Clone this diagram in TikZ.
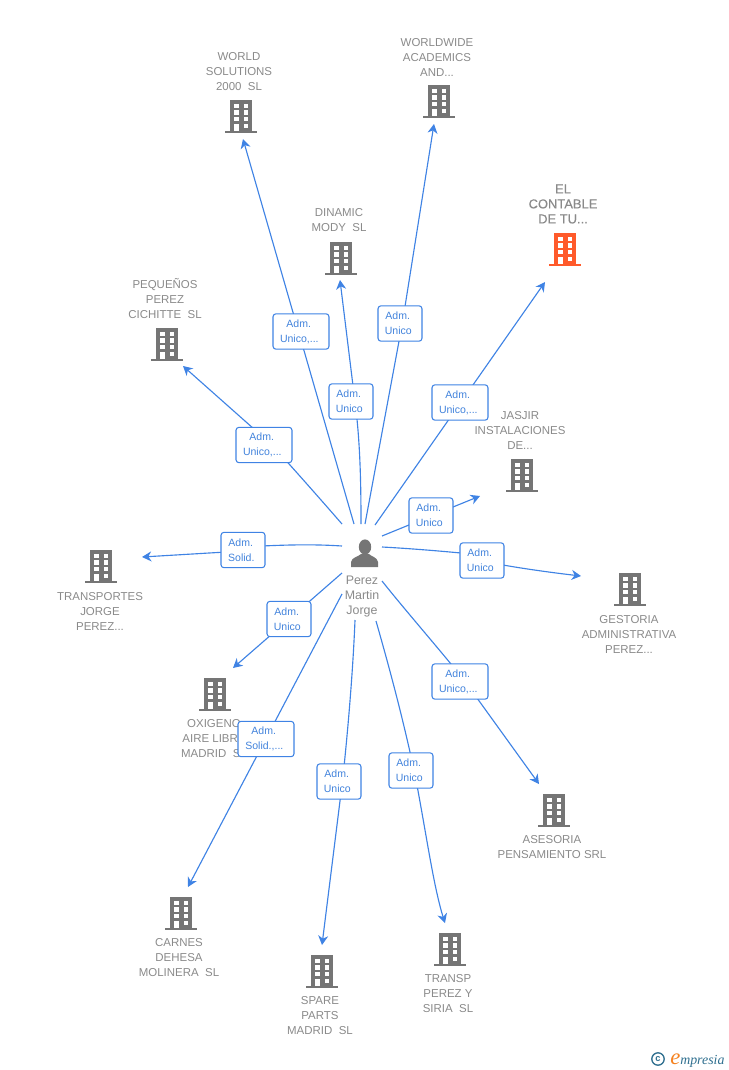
\documentclass[tikz,border=0pt]{standalone}
\usepackage{fontspec}
\setmainfont{Liberation Sans}
\newfontfamily\logofont{Liberation Serif}
\newfontfamily\heavyfont[FakeBold=0.35]{Liberation Sans}
\usetikzlibrary{arrows.meta,backgrounds}
\definecolor{edgeblue}{HTML}{3F83E4}
\definecolor{lbltext}{HTML}{4283DC}
\definecolor{txtgrey}{HTML}{8A8A8A}
\definecolor{icongrey}{HTML}{757575}
\definecolor{iconred}{HTML}{FF5A2B}
\definecolor{logoteal}{HTML}{2F6F8F}
\definecolor{logoorange}{HTML}{F58220}
\newcommand{\rl}[2]{#1\kern3.5pt\\#2\kern2.5pt}
\tikzset{
  edge/.style={draw=edgeblue,line width=0.85pt,line join=round},
  arrowedge/.style={edge,-{Stealth[length=7pt,width=7.5pt,inset=2.2pt]}},
  rel/.style={draw=edgeblue,line width=0.8pt,fill=white,rounded corners=2.2pt,minimum height=26.5pt,inner sep=0pt,
    text=lbltext,align=center,font=\fontsize{7.9}{11.25}\selectfont},
  relS/.style={rel,minimum width=33pt},
  relL/.style={rel,minimum width=42pt},
  co/.style={text=txtgrey,align=center,inner sep=0pt,yshift=-0.75pt,font=\fontsize{8.6}{11.25}\selectfont},
  cored/.style={co,font=\heavyfont\fontsize{9.7}{11.25}\selectfont},
  pers/.style={co,font=\fontsize{9.3}{11.25}\selectfont},
  bld/.pic={
    \fill[pic actions] (-11,-33) rectangle (11,0);
    \fill[pic actions] (-16,-1.8) rectangle (16,0);
    \foreach \yy in {-29.3,-22.7,-16}{
      \fill[white] (-7,\yy) rectangle (-2.5,\yy+4.4);
      \fill[white] (2.5,\yy) rectangle (7.2,\yy+4.4);
    }
    \fill[white] (2.5,-9.3) rectangle (7.2,-4.9);
    \fill[white] (-7,-9.3) rectangle (-2.5,-1.8);
  }
}
\begin{document}
\begin{tikzpicture}[x=0.75pt,y=-0.75pt]
\useasboundingbox (0,0) rectangle (728,1070);

% company labels
\node[co] (tWorld) at (239,71) {WORLD\\SOLUTIONS\\2000\ \ SL};
\node[co] (tAcad) at (437,56) {WORLDWIDE\\ACADEMICS\\AND...};
\node[co] (tDin) at (339,219.5) {DINAMIC\\MODY\ \ SL};
\node[cored] (tCont) at (563,203) {EL\\CONTABLE\\DE TU...};
\node[co] (tPeq) at (165,298) {PEQUEÑOS\\PEREZ\\CICHITTE\ \ SL};
\node[co] (tJas) at (520,429) {JASJIR\\INSTALACIONES\\DE...};
\node[co] (tTrans) at (100,610) {TRANSPORTES\\JORGE\\PEREZ...};
\node[co] (tGest) at (629,633) {GESTORIA\\ADMINISTRATIVA\\PEREZ...};
\node[co] (tOxi) at (214,738) {OXIGENO\\AIRE LIBRE\\MADRID\ \ SL};
\node[co] (tAse) at (552,846.5) {ASESORIA\\PENSAMIENTO SRL};
\node[co] (tCar) at (179,957) {CARNES\\DEHESA\\MOLINERA\ \ SL};
\node[co] (tSpa) at (320,1015) {SPARE\\PARTS\\MADRID\ \ SL};
\node[co] (tTsp) at (448,993) {TRANSP\\PEREZ Y\\SIRIA\ \ SL};
\node[pers] (tPer) at (362,596) {Perez\\Martin\\Jorge};

% building icons
\pic[fill=icongrey] (iWorld) at (241,133) {bld};
\pic[fill=icongrey] (iAcad) at (439,118) {bld};
\pic[fill=icongrey] (iDin) at (341,275) {bld};
\pic[fill=iconred] (iCont) at (565,266) {bld};
\pic[fill=icongrey] (iPeq) at (167,361) {bld};
\pic[fill=icongrey] (iJas) at (522,492) {bld};
\pic[fill=icongrey] (iTrans) at (101,583) {bld};
\pic[fill=icongrey] (iGest) at (630,606) {bld};
\pic[fill=icongrey] (iOxi) at (215,711) {bld};
\pic[fill=icongrey] (iAse) at (554,827) {bld};
\pic[fill=icongrey] (iCar) at (181,930) {bld};
\pic[fill=icongrey] (iSpa) at (322,988) {bld};
\pic[fill=icongrey] (iTsp) at (450,966) {bld};

% person icon
\fill[icongrey] (365,547) ellipse (6.2 and 7.6);
\fill[icongrey] (351,567) -- (351,562) .. controls (352,557) and (358,557) .. (361,554)
  -- (369,554) .. controls (372,557) and (377,557) .. (378,562) -- (378,567) -- cycle;

% relation boxes
\node[relL] (rWorld) at (301,331.5) {\rl{Adm.}{Unico,...}};
\node[relS] (rAcad) at (400,323.5) {\rl{Adm.}{Unico}};
\node[relS] (rDin) at (351,401.5) {\rl{Adm.}{Unico}};
\node[relL] (rCont) at (460,402.5) {\rl{Adm.}{Unico,...}};
\node[relL] (rPeq) at (264,445) {\rl{Adm.}{Unico,...}};
\node[relS] (rJas) at (431,515.5) {\rl{Adm.}{Unico}};
\node[relS] (rGest) at (482,560.5) {\rl{Adm.}{Unico}};
\node[relS] (rTrans) at (243,550) {\rl{Adm.}{Solid.}};
\node[relS] (rOxi) at (289,619) {\rl{Adm.}{Unico}};
\node[relL] (rAse) at (460,681.5) {\rl{Adm.}{Unico,...}};
\node[relL] (rCar) at (266,739) {\rl{Adm.}{Solid.,...}};
\node[relS] (rSpa) at (339,781.5) {\rl{Adm.}{Unico}};
\node[relS] (rTsp) at (411,770.5) {\rl{Adm.}{Unico}};

% connector ends
\coordinate (sWorld) at (354,524); \coordinate (eWorld) at (243,139);
\coordinate (sDin) at (361,524);   \coordinate (eDin) at (340,280);
\coordinate (sAcad) at (365,524);  \coordinate (eAcad) at (434,124);
\coordinate (sCont) at (375,525);  \coordinate (eCont) at (545,282);
\coordinate (sJas) at (382,536);   \coordinate (eJas) at (480,496);
\coordinate (sGest) at (382,547);  \coordinate (eGest) at (581,576);
\coordinate (sAse) at (382,581);   \coordinate (eAse) at (539,784);
\coordinate (sTsp) at (376,621);   \coordinate (eTsp) at (445,923);
\coordinate (sSpa) at (355,620);   \coordinate (eSpa) at (322,945);
\coordinate (sCar) at (342,594);   \coordinate (eCar) at (188,887);
\coordinate (sOxi) at (342,573);   \coordinate (eOxi) at (233,668);
\coordinate (sTrans) at (342,546); \coordinate (eTrans) at (142,557);
\coordinate (sPeq) at (342,524);   \coordinate (ePeq) at (183,366);

% bend points hidden behind the boxes
\coordinate (mDin) at (355,402);
\coordinate (mAcad) at (402.3,323.5);
\coordinate (mPeq) at (272,445);
\coordinate (mGestA) at (465,553.4);
\coordinate (mGestB) at (499,564.3);
\coordinate (mAse) at (464,680);
\coordinate (mTsp) at (414,770);
\coordinate (mSpa) at (342.5,781);
\coordinate (mTransA) at (262,546);
\coordinate (mTransB) at (226,552);

% connectors run behind the boxes
\begin{pgfonlayer}{background}
\draw[arrowedge] (sWorld) -- (eWorld);
\draw[arrowedge] (sDin) .. controls (361,480) and (360,440) .. (mDin) -- (eDin);
\draw[arrowedge] (sAcad) -- (mAcad) -- (eAcad);
\draw[arrowedge] (sCont) -- (eCont);
\draw[arrowedge] (sJas) -- (eJas);
\draw[arrowedge] (sGest) .. controls (410,548.5) and (440,551) .. (mGestA) -- (mGestB) .. controls (525,569) and (555,573) .. (eGest);
\draw[arrowedge] (sAse) .. controls (405,610) and (440,650) .. (mAse) -- (eAse);
\draw[arrowedge] (sTsp) .. controls (390,670) and (402,715) .. (mTsp) .. controls (425,825) and (433,885) .. (eTsp);
\draw[arrowedge] (sSpa) .. controls (353,670) and (348,730) .. (mSpa) -- (eSpa);
\draw[arrowedge] (sCar) -- (eCar);
\draw[arrowedge] (sOxi) -- (eOxi);
\draw[arrowedge] (sTrans) .. controls (312,544) and (285,545) .. (mTransA) -- (mTransB) -- (eTrans);
\draw[arrowedge] (sPeq) .. controls (322,501) and (300,476) .. (mPeq) -- (ePeq);
\end{pgfonlayer}

% logo
\draw[logoteal,line width=1pt] (658,1059) circle (6.2);
\node[inner sep=0pt,text=logoteal,font=\bfseries\fontsize{7}{7}\selectfont] (logoC) at (658,1059) {c};
\node[inner sep=0pt,text=logoorange,anchor=base west,font=\logofont\itshape\fontsize{17}{17}\selectfont] (logoE) at (670,1064) {e};
\node[inner sep=0pt,text=logoteal,anchor=base west,font=\logofont\itshape\fontsize{10.4}{10}\selectfont] (logoT) at (680,1064) {mpresia};
\end{tikzpicture}
\end{document}
